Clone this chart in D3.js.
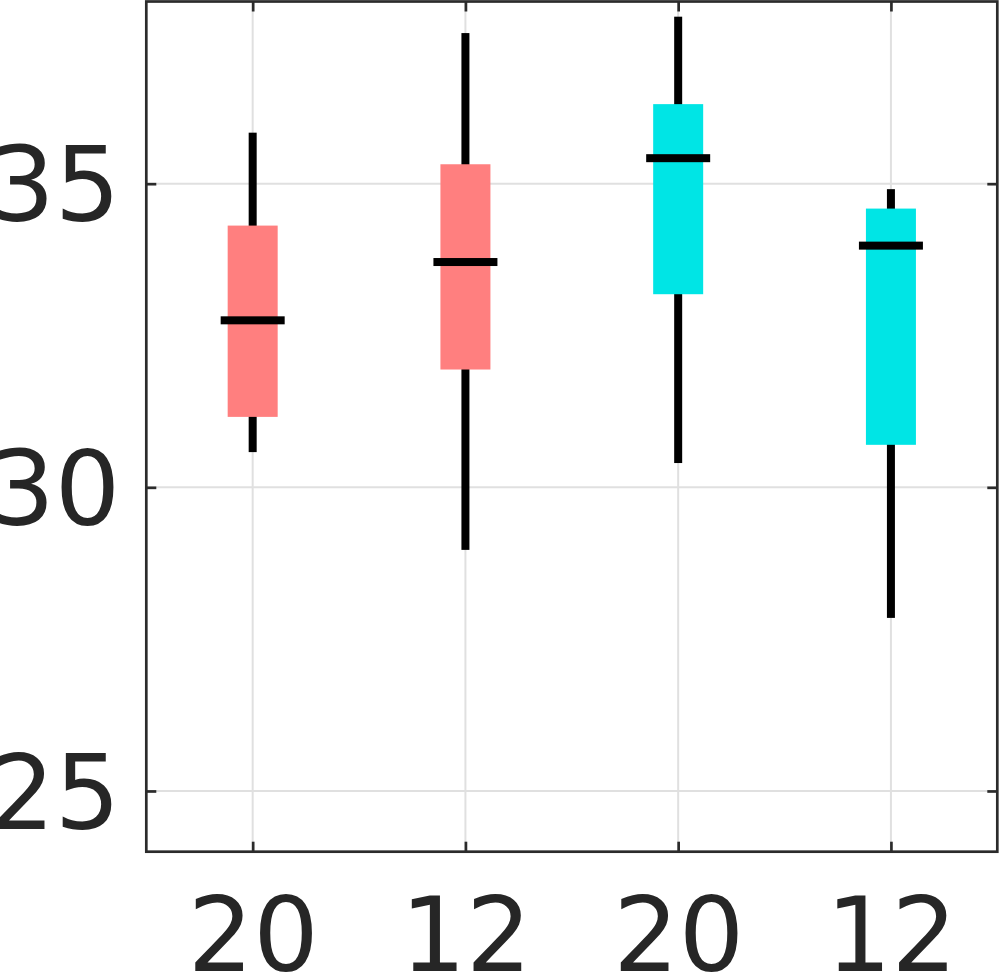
<!DOCTYPE html>
<html>
<head>
<meta charset="utf-8">
<script src="https://cdn.jsdelivr.net/npm/d3@7"></script>
<style>
  html, body { margin: 0; padding: 0; background: #ffffff; }
  svg { display: block; }
</style>
</head>
<body>
<svg id="chart" width="999" height="973"></svg>
<script>
// ---- data ----
const categories = ["20", "12", "20", "12"];
const groups = ["A", "A", "B", "B"];
const whiskerLow = [30.58, 28.97, 30.40, 27.85];
const q1 = [31.16, 31.94, 33.18, 30.70];
const median = [32.75, 33.71, 35.42, 33.98];
const q3 = [34.31, 35.32, 36.31, 34.59];
const whiskerHigh = [35.84, 37.48, 37.75, 34.91];
const yTicks = [25, 30, 35];
const groupColors = { A: "#FF7F7F", B: "#00E5E5" };

// ---- layout ----
const svg = d3.select("#chart");
const plotLeft = 146.3, plotRight = 997.3, plotTop = 1.5, plotBottom = 851.7;
const frameColor = "#2b2b2b";
const textColor = "#262626";

const idx = categories.map((d, i) => i);
const x = d3.scalePoint().domain(idx).range([plotLeft, plotRight]).padding(0.5);
const y = d3.scaleLinear().domain([24, 38]).range([plotBottom, plotTop]);

const boxW = 50, medW = 64, whiskW = 8, medH = 8;

// gridlines
const grid = svg.append("g");
grid.selectAll("line.gy").data(yTicks).join("line").attr("class", "gy")
  .attr("x1", plotLeft).attr("x2", plotRight)
  .attr("y1", d => y(d)).attr("y2", d => y(d))
  .attr("stroke", "#e0e0e0").attr("stroke-width", 2);
grid.selectAll("line.gx").data(idx).join("line").attr("class", "gx")
  .attr("x1", d => x(d)).attr("x2", d => x(d))
  .attr("y1", plotTop).attr("y2", plotBottom)
  .attr("stroke", "#e0e0e0").attr("stroke-width", 2);

// whiskers
svg.append("g").selectAll("rect").data(idx).join("rect")
  .attr("x", d => x(d) - whiskW / 2)
  .attr("width", whiskW)
  .attr("y", d => y(whiskerHigh[d]))
  .attr("height", d => y(whiskerLow[d]) - y(whiskerHigh[d]))
  .attr("fill", "#000");

// boxes
svg.append("g").selectAll("rect").data(idx).join("rect")
  .attr("x", d => x(d) - boxW / 2)
  .attr("width", boxW)
  .attr("y", d => y(q3[d]))
  .attr("height", d => y(q1[d]) - y(q3[d]))
  .attr("fill", d => groupColors[groups[d]]);

// medians
svg.append("g").selectAll("rect").data(idx).join("rect")
  .attr("x", d => x(d) - medW / 2)
  .attr("width", medW)
  .attr("y", d => y(median[d]) - medH / 2)
  .attr("height", medH)
  .attr("fill", "#000");

// axes
function styleAxis(g) {
  g.select(".domain").remove();
  g.selectAll(".tick line").attr("stroke", frameColor).attr("stroke-width", 2.7);
  g.selectAll(".tick text")
    .attr("fill", textColor)
    .style("font-family", "'DejaVu Sans', sans-serif")
    .style("font-size", "103px");
}

const yAxis = svg.append("g").attr("transform", `translate(${plotLeft},0)`)
  .call(d3.axisLeft(y).tickValues(yTicks).tickSize(-10).tickPadding(26).tickFormat(d3.format("d")));
styleAxis(yAxis);
yAxis.selectAll(".tick text").attr("dy", "0.36em");

svg.append("g").attr("transform", `translate(${plotRight},0)`)
  .call(d3.axisRight(y).tickValues(yTicks).tickSize(-10).tickFormat(""))
  .call(styleAxis);

const xAxis = svg.append("g").attr("transform", `translate(0,${plotBottom})`)
  .call(d3.axisBottom(x).tickSize(-10).tickPadding(46).tickFormat(d => categories[d]));
styleAxis(xAxis);

svg.append("g").attr("transform", `translate(0,${plotTop})`)
  .call(d3.axisTop(x).tickSize(-10).tickFormat(""))
  .call(styleAxis);

// frame
svg.append("rect")
  .attr("x", plotLeft).attr("y", plotTop)
  .attr("width", plotRight - plotLeft).attr("height", plotBottom - plotTop)
  .attr("fill", "none").attr("stroke", frameColor).attr("stroke-width", 2.7);
</script>
</body>
</html>
